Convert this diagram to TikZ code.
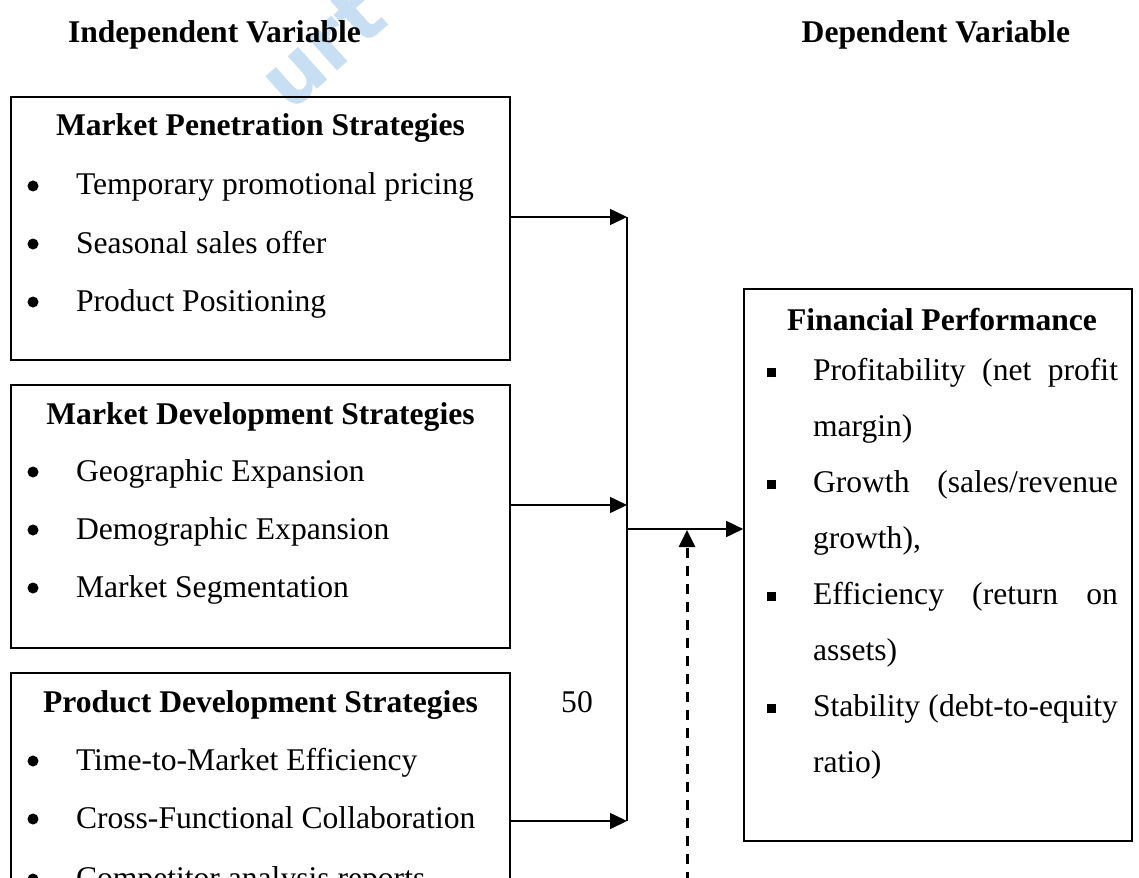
\documentclass[tikz,border=0pt]{standalone}
\usepackage{fontspec}
\setmainfont{Liberation Serif}
\newfontfamily\wmfont{DejaVu Sans}
\usetikzlibrary{arrows.meta}
\definecolor{wmblue}{RGB}{200,222,242}

\tikzset{
  frame/.style={draw=black, line width=1.6pt, rectangle, inner sep=0pt},
  txt/.style={inner sep=0pt, outer sep=0pt, font=\fontsize{31.6}{38}\selectfont},
  hd/.style={txt, font=\fontsize{31.6}{38}\selectfont\bfseries},
  dotbullet/.style={circle, fill=black, inner sep=0pt, minimum size=11pt},
  sqbullet/.style={rectangle, fill=black, inner sep=0pt, minimum size=9pt},
  link/.style={line width=1.6pt, -{Triangle[length=17pt,width=16pt]}},
  plain/.style={line width=1.6pt},
  dashlink/.style={line width=3pt, dash pattern=on 10pt off 8pt,
                   -{Triangle[length=17pt,width=16pt]}}
}

\begin{document}
\begin{tikzpicture}[x=1pt, y=-1pt]
\useasboundingbox (0,0) rectangle (1139,877);
\fill[white] (0,0) rectangle (1139,877);
\clip (0,0) rectangle (1139,877);

% faint watermark fragment
\node[rotate=42, text=wmblue, inner sep=0pt] (wm) at (322,48)
  {\wmfont\fontsize{80}{80}\selectfont\bfseries urt};

% column headings
\node[hd, anchor=base west] (hindep) at (68,43) {Independent Variable};
\node[hd, anchor=base east] (hdep) at (1070,43) {Dependent Variable};

% independent variable boxes
\node[frame, minimum width=499pt, minimum height=263pt] (box1) at (260.5,228.5) {};
\node[frame, minimum width=499pt, minimum height=263pt] (box2) at (260.5,516.5) {};
\node[frame, minimum width=499pt, minimum height=267pt] (box3) at (260.5,806.5) {};

% box 1
\node[hd, anchor=base] (t1) at (260.5,136) {Market Penetration Strategies};
\node[dotbullet] (b11) at (33,186) {};
\node[txt, anchor=base west] (i11) at (76,195) {Temporary promotional pricing};
\node[dotbullet] (b12) at (33,244) {};
\node[txt, anchor=base west] (i12) at (76,253) {Seasonal sales offer};
\node[dotbullet] (b13) at (33,302) {};
\node[txt, anchor=base west] (i13) at (76,311) {Product Positioning};

% box 2
\node[hd, anchor=base] (t2) at (260.5,424) {Market Development Strategies};
\node[dotbullet] (b21) at (33,472) {};
\node[txt, anchor=base west] (i21) at (76,481) {Geographic Expansion};
\node[dotbullet] (b22) at (33,530) {};
\node[txt, anchor=base west] (i22) at (76,539) {Demographic Expansion};
\node[dotbullet] (b23) at (33,588) {};
\node[txt, anchor=base west] (i23) at (76,597) {Market Segmentation};

% box 3
\node[hd, anchor=base] (t3) at (260.5,712) {Product Development Strategies};
\node[dotbullet] (b31) at (33,761) {};
\node[txt, anchor=base west] (i31) at (76,770) {Time-to-Market Efficiency};
\node[dotbullet] (b32) at (33,819) {};
\node[txt, anchor=base west] (i32) at (76,828) {Cross-Functional Collaboration};
\node[dotbullet] (b33) at (33,879) {};
\node[txt, anchor=base west] (i33) at (76,888) {Competitor analysis reports};

\node[txt, anchor=base] (fifty) at (577,712) {50};

% dependent variable box
\node[frame, minimum width=388pt, minimum height=552pt] (fp) at (938,565) {};
\node[hd, anchor=base] (tfp) at (942,330) {Financial Performance};
\node[sqbullet] (s1) at (771,372) {};
\node[txt, anchor=base west] (r1) at (813,380) {\makebox[305pt][s]{Profitability (net profit}};
\node[txt, anchor=base west] (r2) at (813,436) {margin)};
\node[sqbullet] (s2) at (771,484) {};
\node[txt, anchor=base west] (r3) at (813,492) {\makebox[305pt][s]{Growth (sales/revenue}};
\node[txt, anchor=base west] (r4) at (813,548) {growth),};
\node[sqbullet] (s3) at (771,596) {};
\node[txt, anchor=base west] (r5) at (813,604) {\makebox[305pt][s]{Efficiency (return on}};
\node[txt, anchor=base west] (r6) at (813,660) {assets)};
\node[sqbullet] (s4) at (771,708) {};
\node[txt, anchor=base west] (r7) at (813,716) {\makebox[305pt][s]{Stability (debt-to-equity}};
\node[txt, anchor=base west] (r8) at (813,772) {ratio)};

% junction points of the connectors
\coordinate (j1) at (627,217);
\coordinate (j2) at (627,505);
\coordinate (j3) at (627,821);
\coordinate (jm) at (627,529);
\coordinate (dtip) at (687,530);
\coordinate (dfoot) at (687,900);

\draw[link] (box1.east |- j1) -- (j1);
\draw[link] (box2.east |- j2) -- (j2);
\draw[link] (box3.east |- j3) -- (j3);
\draw[plain] (j1) -- (j3);
\draw[link] (jm) -- (fp.west |- jm);
\draw[dashlink] (dfoot) -- (dtip);

\end{tikzpicture}
\end{document}
